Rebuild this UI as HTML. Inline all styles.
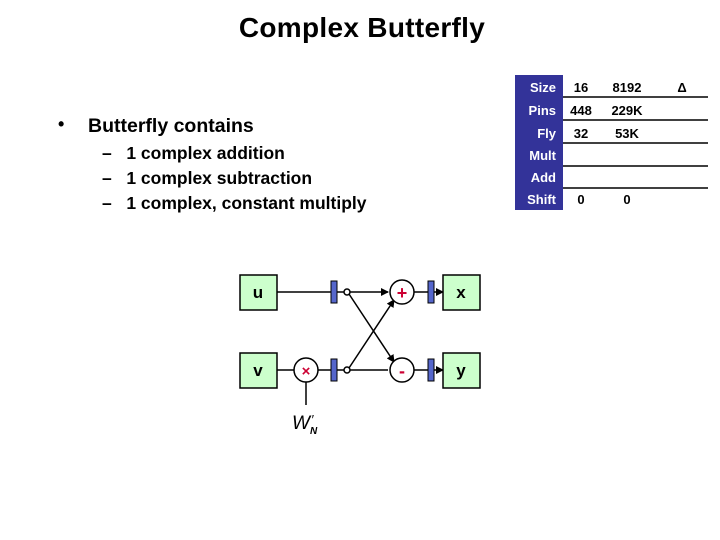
<!DOCTYPE html>
<html><head><style>
body{margin:0;width:720px;height:540px;background:#fff;font-family:"Liberation Sans",Arial,sans-serif;position:relative;overflow:hidden}
.a{position:absolute;white-space:nowrap}
</style></head><body>
<div class="a" style="left:0;width:724px;top:12px;text-align:center;font-size:28px;font-weight:bold;letter-spacing:0.3px">Complex Butterfly</div>
<div class="a" style="left:58px;top:114px;font-size:18px;font-weight:bold">•</div>
<div class="a" style="left:88px;top:115px;font-size:19.5px;font-weight:bold">Butterfly contains</div>
<div class="a" style="left:102px;top:141px;font-size:17.5px;font-weight:bold;line-height:25px">–&nbsp;&nbsp;&nbsp;1 complex addition<br>–&nbsp;&nbsp;&nbsp;1 complex subtraction<br>–&nbsp;&nbsp;&nbsp;1 complex, constant multiply</div>
<svg width="720" height="540" style="position:absolute;left:0;top:0" font-family="Liberation Sans,Arial,sans-serif" font-weight="bold">
<rect x="515" y="75" width="48" height="135" fill="#333399"/>
<g fill="#fff" font-size="13" text-anchor="end">
<text x="556" y="92">Size</text><text x="556" y="115">Pins</text><text x="556" y="138">Fly</text>
<text x="556" y="160">Mult</text><text x="556" y="182">Add</text><text x="556" y="204">Shift</text></g>
<g stroke="#000" stroke-width="1.5"><line x1="563" y1="97" x2="708" y2="97"/><line x1="563" y1="120" x2="708" y2="120"/><line x1="563" y1="143" x2="708" y2="143"/><line x1="563" y1="166" x2="708" y2="166"/><line x1="563" y1="188" x2="708" y2="188"/></g>
<g font-size="13" text-anchor="middle"><text x="581" y="92">16</text><text x="627" y="92">8192</text><text x="682" y="92">Δ</text>
<text x="581" y="115">448</text><text x="627" y="115">229K</text><text x="581" y="138">32</text><text x="627" y="138">53K</text>
<text x="581" y="204">0</text><text x="627" y="204">0</text></g>
<defs><marker id="ar" markerWidth="8" markerHeight="8" refX="7" refY="4" orient="auto" markerUnits="userSpaceOnUse"><path d="M0,0 L8,4 L0,8z" fill="#000"/></marker></defs>
<g stroke="#000" stroke-width="1.5" fill="none">
<line x1="277" y1="292" x2="331" y2="292"/><line x1="337" y1="292" x2="344" y2="292"/>
<line x1="350" y1="292" x2="388" y2="292" marker-end="url(#ar)"/>
<line x1="277" y1="370" x2="294" y2="370"/><line x1="318" y1="370" x2="331" y2="370"/><line x1="337" y1="370" x2="344" y2="370"/>
<line x1="350" y1="370" x2="388" y2="370"/>
<line x1="349" y1="294" x2="394" y2="362" marker-end="url(#ar)"/>
<line x1="349" y1="368" x2="394" y2="300" marker-end="url(#ar)"/>
<line x1="414" y1="292" x2="428" y2="292"/><line x1="434" y1="292" x2="443" y2="292" marker-end="url(#ar)"/>
<line x1="414" y1="370" x2="428" y2="370"/><line x1="434" y1="370" x2="443" y2="370" marker-end="url(#ar)"/>
<line x1="306" y1="382" x2="306" y2="405"/>
<circle cx="347" cy="292" r="3" fill="#fff"/><circle cx="347" cy="370" r="3" fill="#fff"/>
<circle cx="402" cy="292" r="12" fill="#fff"/><circle cx="402" cy="370" r="12" fill="#fff"/><circle cx="306" cy="370" r="12" fill="#fff"/>
<rect x="240" y="275" width="37" height="35" fill="#ccffcc"/><rect x="240" y="353" width="37" height="35" fill="#ccffcc"/>
<rect x="443" y="275" width="37" height="35" fill="#ccffcc"/><rect x="443" y="353" width="37" height="35" fill="#ccffcc"/>
<rect x="331" y="281" width="6" height="22" fill="#5566cc" stroke-width="1"/><rect x="331" y="359" width="6" height="22" fill="#5566cc" stroke-width="1"/>
<rect x="428" y="281" width="6" height="22" fill="#5566cc" stroke-width="1"/><rect x="428" y="359" width="6" height="22" fill="#5566cc" stroke-width="1"/>
</g>
<g font-size="17" text-anchor="middle"><text x="258" y="298">u</text><text x="258" y="376">v</text><text x="461" y="298">x</text><text x="461" y="376">y</text></g>
<g fill="#cc0033" font-size="18" text-anchor="middle"><text x="402" y="299">+</text><text x="402" y="377">-</text><text x="306" y="376" font-size="15">×</text></g>
<text x="292" y="429" font-size="19" font-style="italic" font-weight="normal">W</text>
<text x="310" y="434" font-size="10" font-style="italic">N</text>
<text x="311" y="424" font-size="13" font-style="italic" font-weight="normal">′</text>
</svg>
</body></html>
